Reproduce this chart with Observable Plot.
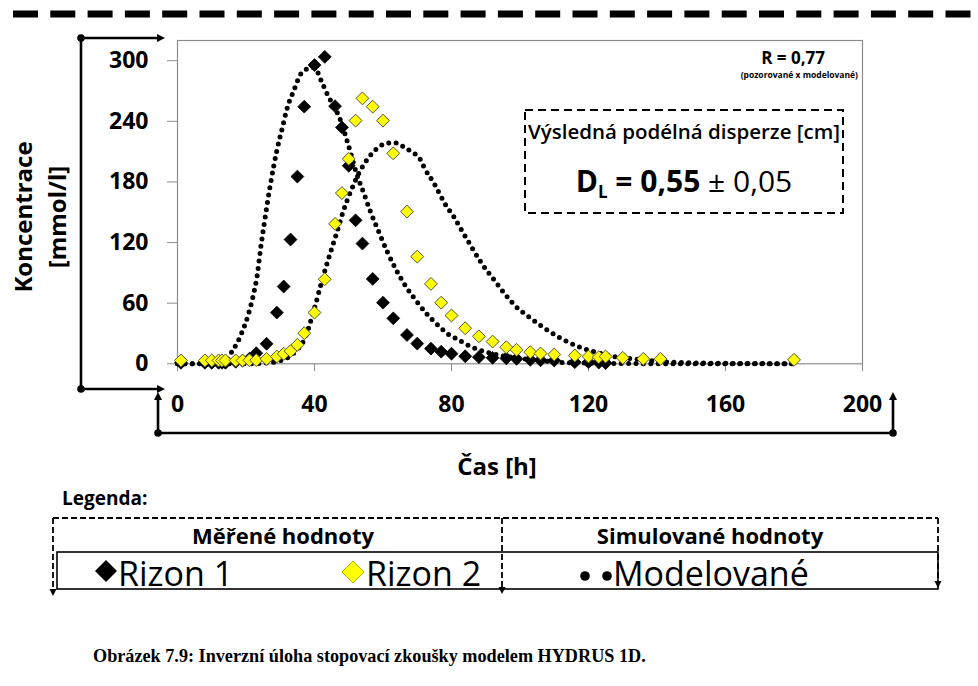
<!DOCTYPE html>
<html><head><meta charset="utf-8">
<script src="https://cdn.jsdelivr.net/npm/d3@7"></script>
<script src="https://cdn.jsdelivr.net/npm/@observablehq/plot@0.6"></script>
<style>
body{margin:0;background:#fff}
#chart{width:978px;height:686px}
text{white-space:pre}
</style>
</head><body><div id="chart"></div>
<script>
// ---------- data ----------
const xTicks = [0, 40, 80, 120, 160, 200];
const yTicks = [0, 60, 120, 180, 240, 300];

const rizon1T = [1,8,10,12,13,14,17,19,21,23,26,29,31,33,35,37,40,43,46,48,50,52,54,57,60,63,67,70,74,77,80,84,88,92,96,99,103,106,110,116,120,123,125];
const rizon1C = [1,1,1,1,1,1,2,3,5,10.5,19.8,50.7,76.5,123,185.3,254.5,295.7,303.8,255,234,196,142,119,84,60.5,45,28.5,20,15,12,10,7.5,6.6,5.9,5.4,4.9,3.9,3.5,3.3,1.6,1.6,1.2,0.7];

const rizon2T = [1,8,10,12,13,14,17,19,21,23,26,29,31,33,35,37,40,43,46,48,50,52,54,57,60,63,67,70,74,77,80,84,88,92,96,99,103,106,110,116,120,123,125,130,136,141,180];
const rizon2C = [3.3,3.3,3.3,3.3,3.3,3.3,3.3,3.3,3.5,3.6,4.9,7.2,9.9,12.5,18.8,30.3,50.7,83.7,138.5,169,202.8,240.7,262.7,254.5,240.7,208.3,150.6,106.1,79.1,60.5,47.8,35.2,27.2,22,16.4,13.8,11.5,10.2,9.2,8.2,7.2,6.6,7.2,5.9,4.9,4.9,3.9];

const model1T = [0,5,10,13,15,16,17.5,18.8,20.6,22.4,23.2,24.3,25.6,27,29,30.5,32.1,33.9,36,38,40,42,44,45.7,47.7,50.1,52.3,54.5,56.4,58.6,61.1,63.7,66.7,69.8,73.2,76.7,78.6,81,83.2,85.6,88.6,91.5,94.9,98.8,103.5,111,120,130,140,160,180];
const model1C = [0,0,0,1,6,13,21,31,48,72,86,115,145,175,211,232,254,270,287,292,293,280,265,255,240,214,188,168,150,132,112,94,76.5,62,47.8,36.2,30.3,25.7,21.4,17.1,13.2,10.5,7.9,5.9,4,1.6,0.7,0.3,0.1,0,0];

const model2T = [0,10,20,25,30,33,35,37,40,42,44,46.7,48.5,50.5,53,56,58.6,61.5,64,66.2,68.6,70.8,72,75,78.6,80.6,82.9,85.8,88.6,90.3,92,95.2,98.8,103,107,111.7,116.8,122.1,127,133,140,150,160,170,180];
const model2C = [0,0,0,0.5,3,8,14,24,55,80,103,132,152,170,189,205,214,218.6,218.6,214.3,209.3,202.8,194.5,178,155.6,146,132.5,116,100.5,92.3,85,70.8,56.7,45.5,35.6,25.7,17.4,11.5,7.5,4.9,2.5,1,0.5,0.2,0];

const r1 = rizon1T.map((t,i)=>({t, c: rizon1C[i]}));
const r2 = rizon2T.map((t,i)=>({t, c: rizon2C[i]}));
const model = [
  ...model1T.map((t,i)=>({t, c: model1C[i], s: "m1"})),
  ...model2T.map((t,i)=>({t, c: model2C[i], s: "m2"}))
];

// ---------- chart ----------
const FONT = "'Open Sans', 'DejaVu Sans', sans-serif";
const plot = Plot.plot({
  width: 978, height: 686,
  marginLeft: 177, marginTop: 40, marginRight: 116, marginBottom: 322.7,
  x: {domain: [0, 200]},
  y: {domain: [0, 320]},
  style: {fontFamily: FONT, background: "white", color: "black"},
  marks: [
    Plot.frame({stroke: "#8c8c8c", strokeWidth: 1.2}),
    Plot.axisX({ticks: xTicks, tickSize: 8, tickPadding: 24, stroke: "#8c8c8c", fill: "black",
      fontSize: 23, fontWeight: "bold", label: null, tickFormat: d => String(d)}),
    Plot.axisY({ticks: yTicks, tickSize: 10, tickPadding: 19, stroke: "#8c8c8c", fill: "black",
      fontSize: 23, fontWeight: "bold", label: null, tickFormat: d => String(d)}),
    Plot.line(model, {x: "t", y: "c", z: "s", curve: "monotone-x", stroke: "black",
      strokeWidth: 5, strokeDasharray: "0 7.4", strokeLinecap: "round"}),
    Plot.dot(r1, {x: "t", y: "c", symbol: "diamond2", r: 5.8, fill: "black", stroke: "black", strokeWidth: 0.8}),
    Plot.dot(r2, {x: "t", y: "c", symbol: "diamond2", r: 5.8, fill: "#ffff00", stroke: "#55553a", strokeWidth: 1})
  ]
});
document.getElementById("chart").appendChild(plot);

// ---------- decorations ----------
const svg = d3.select(plot);
const g = svg.append("g");

function line(x1,y1,x2,y2,w=2.6,dash=null){
  const l = g.append("line").attr("x1",x1).attr("y1",y1).attr("x2",x2).attr("y2",y2)
    .attr("stroke","black").attr("stroke-width",w);
  if (dash) l.attr("stroke-dasharray",dash);
  return l;
}
function dot(x,y,r=3.8){ g.append("circle").attr("cx",x).attr("cy",y).attr("r",r).attr("fill","black"); }
function head(x,y,dir,len=8,hw=4){
  let p;
  if (dir==="right") p=[[x,y],[x-len,y-hw],[x-len,y+hw]];
  if (dir==="up") p=[[x,y],[x-hw,y+len],[x+hw,y+len]];
  if (dir==="down") p=[[x,y],[x-hw,y-len],[x+hw,y-len]];
  g.append("path").attr("d","M"+p.map(q=>q.join(",")).join("L")+"Z").attr("fill","black");
}
function text(x,y,s,opt={}){
  const t = g.append("text").attr("x",x).attr("y",y).text(s)
    .attr("font-family", opt.family || FONT)
    .attr("font-size", opt.size || 16)
    .attr("font-weight", opt.weight || "normal")
    .attr("text-anchor", opt.anchor || "start")
    .attr("fill", "black");
  if (opt.rotate) t.attr("transform", `rotate(-90 ${x} ${y})`);
  return t;
}

// top dashed rule
line(13,14,975,14,7,"25 12.3");

// left bracket
line(81,38,81,389);
dot(81,38); dot(81,389);
line(81,38,158,38); head(165,38,"right");
line(81,389,158,389); head(165,389,"right");

// bottom bracket
line(158,433,893,433);
dot(158,433); dot(893,433);
line(158,433,158,399); head(158,392,"up");
line(893,433,893,399); head(893,392,"up");

// axis titles
text(32,217,"Koncentrace",{size:24,weight:"bold",anchor:"middle",rotate:true});
text(66,217,"[mmol/l]",{size:24,weight:"bold",anchor:"middle",rotate:true});
text(497,475,"Čas [h]",{size:24,weight:"bold",anchor:"middle"});

// annotations
text(825,64,"R = 0,77",{size:17,weight:"bold",anchor:"end"});
text(858,78,"(pozorované x modelované)",{size:8.5,weight:"bold",anchor:"end"});
g.append("rect").attr("x",525).attr("y",110).attr("width",318).attr("height",103)
  .attr("fill","none").attr("stroke","black").attr("stroke-width",2).attr("stroke-dasharray","8 5");
text(684,139,"Výsledná podélná disperze [cm]",{size:20.5,weight:600,anchor:"middle"});
const dl = g.append("text").attr("x",684).attr("y",192).attr("text-anchor","middle")
  .attr("font-family",FONT).attr("font-size",30).attr("fill","black");
dl.append("tspan").attr("font-weight","bold").text("D");
dl.append("tspan").attr("font-weight","bold").attr("font-size",17).attr("dy",6).text("L");
dl.append("tspan").attr("font-weight","bold").attr("dy",-6).text(" = 0,55");
dl.append("tspan").attr("font-weight","normal").text(" ± 0,05");

// legend
text(62,505,"Legenda:",{size:19,weight:"bold"});
line(53,518,938,518,1.8,"6 3");
line(53,518,53,589,1.8,"6 3"); head(53,596,"down",7,3.5);
line(502,518,502,587,1.8,"6 3"); head(502,594,"down",7,3.5);
line(938,518,938,580,1.8,"6 3"); head(938,588,"down",7,3.5);
g.append("rect").attr("x",57).attr("y",552).attr("width",881).attr("height",37)
  .attr("fill","none").attr("stroke","black").attr("stroke-width",1.6);
text(283,544,"Měřené hodnoty",{size:22,weight:"bold",anchor:"middle"});
text(710,544,"Simulované hodnoty",{size:22,weight:"bold",anchor:"middle"});
g.append("path").attr("d","M106,560L117,571L106,582L95,571Z").attr("fill","black");
text(118,586,"Rizon 1",{size:34});
g.append("path").attr("d","M353,561L364,572L353,583L342,572Z").attr("fill","#ffff00").attr("stroke","#b5b500").attr("stroke-width",1);
text(366,586,"Rizon 2",{size:34});
dot(585,576,4.8); dot(607,576,4.8);
text(613,586,"Modelované",{size:34});

// caption
text(93,662,"Obrázek 7.9: Inverzní úloha stopovací zkoušky modelem HYDRUS 1D.",
  {family:"'Liberation Serif', 'Times New Roman', serif", size:18.2, weight:"bold"});
</script>
</body></html>
